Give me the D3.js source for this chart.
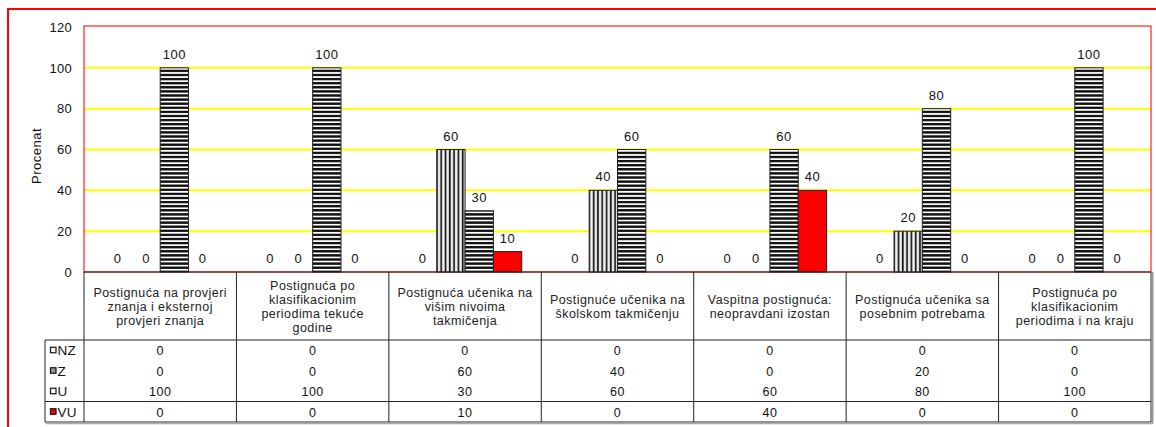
<!DOCTYPE html>
<html>
<head>
<meta charset="utf-8">
<script src="https://cdn.jsdelivr.net/npm/d3@7"></script>
<style>
  body { margin: 0; background: #fff; }
  svg { display: block; font-family: "Liberation Sans", Arial, sans-serif; }
</style>
</head>
<body>
<svg id="chart"></svg>
<script>
// categories, each split into the lines shown in the table header
const categories = [
  ["Postignuća na provjeri", "znanja i eksternoj", "provjeri znanja"],
  ["Postignuća po", "klasifikacionim", "periodima tekuće", "godine"],
  ["Postignuća učenika na", "višim nivoima", "takmičenja"],
  ["Postignuće učenika na", "školskom takmičenju"],
  ["Vaspitna postignuća:", "neopravdani izostan"],
  ["Postignuća učenika sa", "posebnim potrebama"],
  ["Postignuća po", "klasifikacionim", "periodima i na kraju"]
]
const seriesNames = ["NZ", "Z", "U", "VU"]
const NZ = [0, 0, 0, 0, 0, 0, 0]
const Z  = [0, 0, 60, 40, 0, 20, 0]
const U  = [100, 100, 30, 60, 60, 80, 100]
const VU = [0, 0, 10, 0, 40, 0, 0]
const yTicks = [0, 20, 40, 60, 80, 100, 120]

const values = { NZ, Z, U, VU }
const width = 1156
const height = 427

const plotLeft = 84, plotRight = 1151, plotTop = 27, base = 272
const rowH = 20.5, headH = 68, legendLeft = 45

const svg = d3.select("#chart")
  .attr("width", width)
  .attr("height", height)

// patterns for the bars
const defs = svg.append("defs")
const pz = defs.append("pattern")
  .attr("id", "pat-z").attr("patternUnits", "userSpaceOnUse")
  .attr("width", 4.3).attr("height", 10)
pz.append("rect").attr("width", 4.3).attr("height", 10).attr("fill", "#cfcfcf")
pz.append("rect").attr("x", 2.2).attr("width", 1).attr("height", 10).attr("fill", "#fff")
pz.append("rect").attr("x", 0).attr("width", 1.5).attr("height", 10).attr("fill", "#111")

const pu = defs.append("pattern")
  .attr("id", "pat-u").attr("patternUnits", "userSpaceOnUse")
  .attr("width", 10).attr("height", 4.1)
pu.append("rect").attr("width", 10).attr("height", 4.1).attr("fill", "#fff")
pu.append("rect").attr("y", 0).attr("width", 10).attr("height", 2.4).attr("fill", "#111")

const fills = { NZ: "#fff", Z: "url(#pat-z)", U: "url(#pat-u)", VU: "#ff0000" }
const keyFills = { NZ: "#fff", Z: "#999", U: "#fff", VU: "#ff0000" }

const idx = d3.range(categories.length)
const x0 = d3.scaleBand().domain(idx).range([plotLeft, plotRight]).padding(0)
const x1 = d3.scaleBand().domain(seriesNames).range([0, x0.bandwidth()])
  .paddingInner(0).paddingOuter(0.69)
const y = d3.scaleLinear().domain([0, 120]).range([base, plotTop])

// outer red frame
svg.append("rect")
  .attr("x", 8).attr("y", 9).attr("width", 1170).attr("height", 440)
  .attr("fill", "none").attr("stroke", "#ff0000").attr("stroke-width", 2)

// gridlines
svg.append("g")
  .selectAll("line")
  .data(yTicks.filter(t => t > 0 && t < 120))
  .join("line")
  .attr("x1", plotLeft).attr("x2", plotRight)
  .attr("y1", d => y(d)).attr("y2", d => y(d))
  .attr("stroke", "#ffff00").attr("stroke-width", 2)

// plot area border
svg.append("rect")
  .attr("x", plotLeft).attr("y", y(120) - 1)
  .attr("width", plotRight - plotLeft).attr("height", base - y(120) + 1)
  .attr("fill", "none").attr("stroke", "#ff3333").attr("stroke-width", 1.3)

// y axis
const yAxis = svg.append("g")
  .attr("transform", `translate(${plotLeft},0)`)
  .call(d3.axisLeft(y).tickValues(yTicks).tickSize(0).tickPadding(12))
yAxis.select(".domain").remove()
yAxis.selectAll("text").attr("font-size", 13).attr("fill", "#111")
  .attr("letter-spacing", 0.3)
  .attr("font-family", "Liberation Sans, Arial, sans-serif")

svg.append("text")
  .attr("transform", `translate(41,156) rotate(-90)`)
  .attr("text-anchor", "middle")
  .attr("font-size", 13).attr("letter-spacing", 0.5).attr("fill", "#111")
  .text("Procenat")

// bars
const groups = svg.append("g")
  .selectAll("g")
  .data(idx)
  .join("g")
  .attr("transform", i => `translate(${x0(i)},0)`)

groups.selectAll("rect")
  .data(i => seriesNames.map(s => ({ s, v: values[s][i] })))
  .join("rect")
  .filter(d => d.v > 0)
  .attr("x", d => x1(d.s))
  .attr("y", d => y(d.v))
  .attr("width", x1.bandwidth())
  .attr("height", d => base - y(d.v))
  .attr("fill", d => fills[d.s])
  .attr("stroke", "#222").attr("stroke-width", 1)

groups.selectAll("text")
  .data(i => seriesNames.map(s => ({ s, v: values[s][i] })))
  .join("text")
  .attr("x", d => x1(d.s) + x1.bandwidth() / 2)
  .attr("y", d => y(d.v) - 9)
  .attr("text-anchor", "middle")
  .attr("font-size", 13).attr("letter-spacing", 0.5).attr("fill", "#111")
  .text(d => d.v)

// data table
const tableTop = base
const rowsTop = tableTop + headH
const tableBottom = rowsTop + rowH * seriesNames.length
const table = svg.append("g").attr("stroke", "#222").attr("stroke-width", 1)

// shadow on right and bottom
svg.append("line")
  .attr("x1", plotRight + 1.5).attr("x2", plotRight + 1.5)
  .attr("y1", tableTop).attr("y2", tableBottom + 1.5)
  .attr("stroke", "#999").attr("stroke-width", 2)
svg.append("line")
  .attr("x1", legendLeft + 1).attr("x2", plotRight + 2)
  .attr("y1", tableBottom + 1.5).attr("y2", tableBottom + 1.5)
  .attr("stroke", "#aaa").attr("stroke-width", 1.5)

table.append("line")
  .attr("x1", plotLeft).attr("x2", plotRight).attr("y1", tableTop).attr("y2", tableTop)
;[rowsTop, rowsTop + rowH * 3, tableBottom].forEach(yy => {
  table.append("line")
    .attr("x1", legendLeft).attr("x2", plotRight).attr("y1", yy).attr("y2", yy)
})
table.append("line")
  .attr("x1", legendLeft).attr("x2", legendLeft).attr("y1", rowsTop).attr("y2", tableBottom)
table.selectAll(".vl")
  .data(idx.concat([idx.length]))
  .join("line")
  .attr("x1", i => i < idx.length ? x0(i) : plotRight)
  .attr("x2", i => i < idx.length ? x0(i) : plotRight)
  .attr("y1", tableTop).attr("y2", tableBottom)

// header text
svg.append("g")
  .selectAll("text")
  .data(idx)
  .join("text")
  .attr("text-anchor", "middle")
  .attr("font-size", 12.5).attr("letter-spacing", 0.45).attr("fill", "#222")
  .attr("x", i => x0(i) + x0.bandwidth() / 2)
  .attr("y", i => tableTop + headH / 2 + 4.5 - (categories[i].length - 1) * 7)
  .selectAll("tspan")
  .data(i => categories[i].map(t => ({ t, x: x0(i) + x0.bandwidth() / 2 })))
  .join("tspan")
  .attr("x", d => d.x)
  .attr("dy", (d, k) => k === 0 ? 0 : 14)
  .text(d => d.t)

// legend keys and values
seriesNames.forEach((s, r) => {
  const cy = rowsTop + rowH * r + rowH / 2
  svg.append("rect")
    .attr("x", 50.5).attr("y", cy - 3)
    .attr("width", 5.5).attr("height", 5.5)
    .attr("fill", keyFills[s]).attr("stroke", "#111").attr("stroke-width", 1.2)
  svg.append("text")
    .attr("x", 57.5).attr("y", cy + 5)
    .attr("font-size", 13.5).attr("letter-spacing", 0.3).attr("fill", "#111")
    .text(s)
  svg.append("g")
    .selectAll("text")
    .data(values[s])
    .join("text")
    .attr("x", (v, i) => x0(i) + x0.bandwidth() / 2)
    .attr("y", cy + 5)
    .attr("text-anchor", "middle")
    .attr("font-size", 12.5).attr("letter-spacing", 0.5).attr("fill", "#111")
    .text(v => v)
})
</script>
</body>
</html>
